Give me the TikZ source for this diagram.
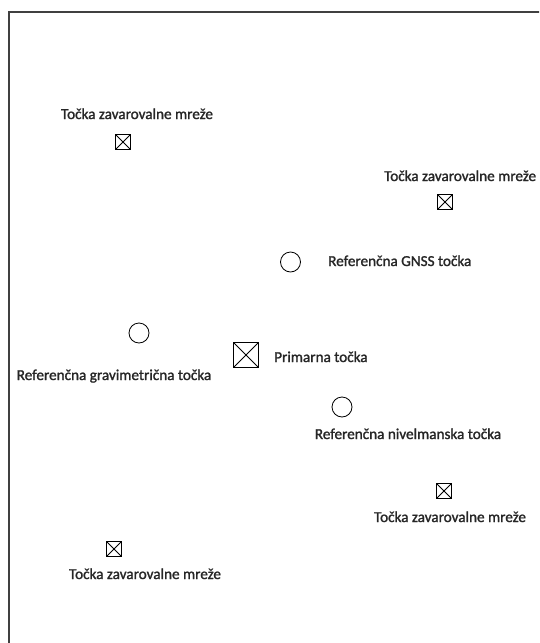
\documentclass[tikz,border=0pt]{standalone}
\usepackage{fontspec}
\setmainfont{Carlito}[FakeBold=1.5]
\usepackage{tikz}
\tikzset{
	every node/.style={font=\fontsize{15.2}{18}\selectfont, text=black!85},
	zmark/.style={draw, thick, minimum size=15pt, inner sep=0pt,
		path picture={\draw (path picture bounding box.north west) -- (path picture bounding box.south east)
			(path picture bounding box.south west) -- (path picture bounding box.north east);}}, % box with a cross
	pmark/.style={zmark, minimum size=25pt}, % the bigger primary box
	rmark/.style={draw, thick, circle, minimum size=20pt, inner sep=0pt}, % reference point
	lbl/.style={anchor=base, inner sep=0pt},
}

\begin{document}
\begin{tikzpicture}[x=1pt, y=-1pt]
		\useasboundingbox (0,0) rectangle (539,643);
		\clip (0,0) rectangle (539,643);
		\draw[black!75, line width=1.3pt] (9,12) rectangle (580,680);
		
		\node[zmark] (tzA) at (123,142) {};
		\node[lbl] (tzAtxt) at (137,119) {Točka zavarovalne mreže};
		
		\node[zmark] (tzB) at (445,202) {};
		\node[lbl, anchor=base west] (tzBtxt) at (384,181) {Točka zavarovalne mreže};
		
		\node[rmark] (gnss) at (290.5,262) {};
		\node[lbl, anchor=base west] (gnsstxt) at (328,266) {Referenčna GNSS točka};
		
		\node[rmark] (grav) at (139,333) {};
		\node[lbl] (gravtxt) at (114,380) {Referenčna gravimetrična točka};
		
		\node[pmark] (prim) at (246,355) {};
		\node[lbl, anchor=base west] (primtxt) at (274,362) {Primarna točka};
		
		\node[rmark] (niv) at (342,407) {};
		\node[lbl] (nivtxt) at (408,439) {Referenčna nivelmanska točka};
		
		\node[zmark] (tzC) at (444,491) {};
		\node[lbl] (tzCtxt) at (450,522) {Točka zavarovalne mreže};
		
		\node[zmark] (tzD) at (114,549) {};
		\node[lbl] (tzDtxt) at (145,579) {Točka zavarovalne mreže};
\end{tikzpicture}
\end{document}
